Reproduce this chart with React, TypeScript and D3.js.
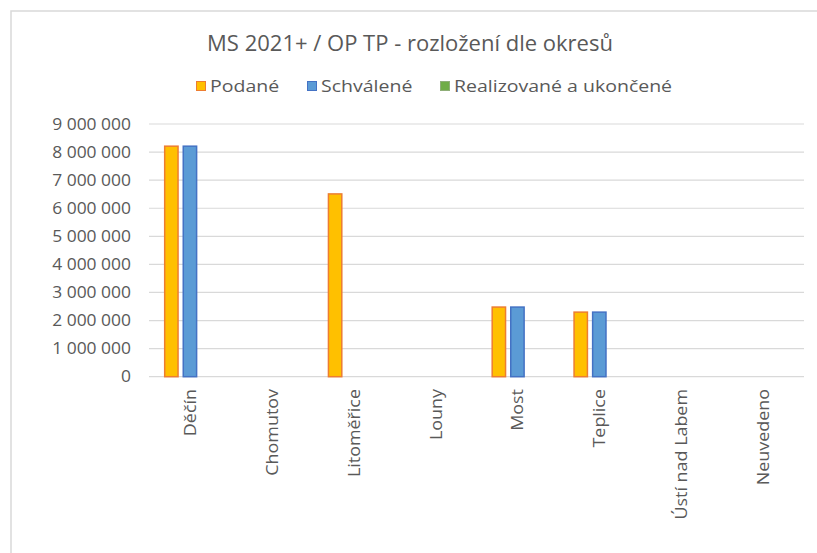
import React, { useEffect, useRef } from "react";
import * as d3 from "d3";

const categories = ["Děčín", "Chomutov", "Litoměřice", "Louny", "Most", "Teplice", "Ústí nad Labem", "Neuvedeno"];
const seriesNames = ["Podané", "Schválené", "Realizované a ukončené"];
const podane = [8210000, 0, 6510000, 0, 2480000, 2300000, 0, 0];
const schvalene = [8210000, 0, 0, 0, 2480000, 2300000, 0, 0];
const realizovane = [0, 0, 0, 0, 0, 0, 0, 0];
const yTicks = [0, 1000000, 2000000, 3000000, 4000000, 5000000, 6000000, 7000000, 8000000, 9000000];
const title = "MS 2021+ / OP TP - rozložení dle okresů";

const fills = ["#FFC000", "#5B9BD5", "#70AD47"];
const strokes = ["#ED7D31", "#4472C4", "#8FAE78"];
const FONT = "'Century Gothic', 'Open Sans', sans-serif";
const TEXT = "#595959";

export default function App() {
  const ref = useRef<SVGSVGElement>(null);
  useEffect(() => {
    const svg = d3.select(ref.current);
    svg.selectAll("*").remove();
    const W = 817, H = 553;
    const left = 149, right = 804, top = 124, bottom = 376.7;

    const txt = (transform: string, s: string, size: number, anchor = "start", dy = "0") =>
      svg.append("text").attr("transform", transform).attr("text-anchor", anchor).attr("dy", dy)
        .attr("font-family", FONT).attr("font-size", size).attr("fill", TEXT).text(s);

    // frame
    svg.append("rect").attr("x", 11).attr("y", 11).attr("width", W + 20).attr("height", H + 20)
      .attr("fill", "#fff").attr("stroke", "#D9D9D9").attr("stroke-width", 1.5);

    txt(`translate(410,51) scale(1.0,1)`, title, 22, "middle");

    // legend
    const legX = [196, 307, 440];
    seriesNames.forEach((s, i) => {
      svg.append("rect").attr("x", legX[i] + 0.5).attr("y", 81.5).attr("width", 9).attr("height", 9)
        .attr("fill", fills[i]).attr("stroke", strokes[i]).attr("stroke-width", 1);
      txt(`translate(${legX[i] + 14},92) scale(1.22,1)`, s, 16);
    });

    const y = d3.scaleLinear().domain([0, 9000000]).range([bottom, top]);
    const x0 = d3.scaleBand<string>().domain(categories).range([left, right]).paddingInner(0).paddingOuter(0);
    const x1 = d3.scaleBand<string>().domain(seriesNames).range([-26, 26]).paddingInner(0.2);

    const fmt = (v: number) => d3.format(",")(v).replace(/,/g, " ");

    yTicks.forEach((t) => {
      svg.append("line").attr("x1", left).attr("x2", right).attr("y1", y(t)).attr("y2", y(t))
        .attr("stroke", "#D9D9D9").attr("stroke-width", 1.2);
      txt(`translate(131,${y(t)}) scale(1.09,1)`, fmt(t), 16, "end", "0.36em");
    });

    const data = [podane, schvalene, realizovane];
    categories.forEach((c, ci) => {
      const cx = (x0(c) as number) + x0.bandwidth() / 2;
      seriesNames.forEach((s, si) => {
        const v = data[si][ci];
        if (v <= 0) return;
        svg.append("rect").attr("x", cx + (x1(s) as number) + 0.75).attr("y", y(v))
          .attr("width", x1.bandwidth() - 1.5).attr("height", bottom - y(v))
          .attr("fill", fills[si]).attr("stroke", strokes[si]).attr("stroke-width", 1.5);
      });
      txt(`translate(${cx + 6},389) rotate(-90) scale(1.12,1)`, c, 16, "end");
    });
  }, []);
  return (
    <svg ref={ref} width={817} height={553} style={{ position: "absolute", left: 0, top: 0, background: "#fff" }} />
  );
}
